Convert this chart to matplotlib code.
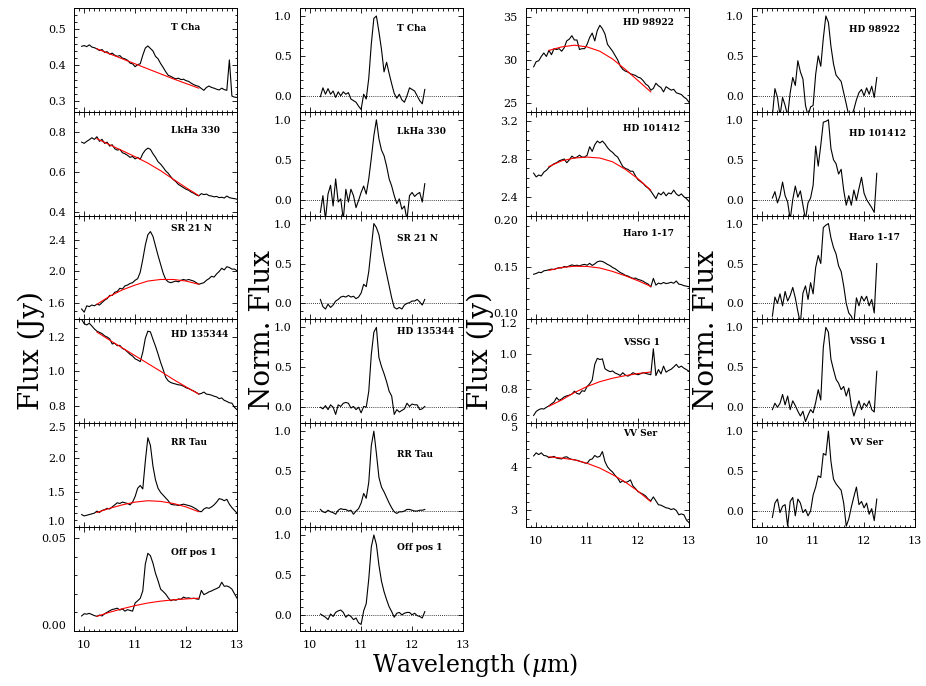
import matplotlib
matplotlib.use("Agg")
import matplotlib.pyplot as plt
from matplotlib.ticker import MultipleLocator, AutoMinorLocator, FormatStrFormatter

plt.rcParams['font.family'] = 'DejaVu Serif'
plt.rcParams['mathtext.fontset'] = 'dejavuserif'

# wavelength grids (micron)
wave = [9.95, 10.00, 10.05, 10.10, 10.15, 10.20, 10.25, 10.30, 10.35, 10.40,
        10.45, 10.50, 10.55, 10.60, 10.65, 10.70, 10.75, 10.80, 10.85, 10.90,
        10.95, 11.00, 11.05, 11.10, 11.15, 11.20, 11.25, 11.30, 11.35, 11.40,
        11.45, 11.50, 11.55, 11.60, 11.65, 11.70, 11.75, 11.80, 11.85, 11.90,
        11.95, 12.00, 12.05, 12.10, 12.15, 12.20, 12.25, 12.30, 12.35, 12.40,
        12.45, 12.50, 12.55, 12.60, 12.65, 12.70, 12.75, 12.80, 12.85, 12.90,
        12.95, 13.00]
wave_norm = [10.20, 10.25, 10.30, 10.35, 10.40, 10.45, 10.50, 10.55, 10.60, 10.65,
             10.70, 10.75, 10.80, 10.85, 10.90, 10.95, 11.00, 11.05, 11.10, 11.15,
             11.20, 11.25, 11.30, 11.35, 11.40, 11.45, 11.50, 11.55, 11.60, 11.65,
             11.70, 11.75, 11.80, 11.85, 11.90, 11.95, 12.00, 12.05, 12.10, 12.15,
             12.20, 12.25]
wave_cont = [10.25, 10.50, 10.75, 11.00, 11.25, 11.50, 11.75, 12.00, 12.25]

names = ["T Cha", "LkHa 330", "SR 21 N", "HD 135344", "RR Tau", "Off pos 1",
         "HD 98922", "HD 101412", "Haro 1-17", "VSSG 1", "VV Ser"]

# ---- flux spectra (Jy)
flux_tcha = [0.453, 0.455, 0.452, 0.457, 0.451, 0.449, 0.446, 0.441, 0.444, 0.436,
             0.438, 0.431, 0.434, 0.428, 0.425, 0.427, 0.420, 0.418, 0.414, 0.406,
             0.404, 0.396, 0.402, 0.404, 0.428, 0.448, 0.454, 0.447, 0.440, 0.425,
             0.418, 0.405, 0.394, 0.382, 0.372, 0.369, 0.365, 0.362, 0.364, 0.360,
             0.361, 0.357, 0.355, 0.350, 0.346, 0.343, 0.341, 0.335, 0.330, 0.338,
             0.342, 0.338, 0.336, 0.333, 0.331, 0.336, 0.332, 0.330, 0.415, 0.314,
             0.311, 0.310]
flux_lkha = [0.748, 0.742, 0.752, 0.760, 0.770, 0.762, 0.775, 0.752, 0.762, 0.742,
             0.748, 0.728, 0.735, 0.715, 0.708, 0.712, 0.695, 0.690, 0.682, 0.672,
             0.676, 0.664, 0.672, 0.662, 0.690, 0.708, 0.718, 0.712, 0.690, 0.672,
             0.650, 0.638, 0.622, 0.604, 0.592, 0.575, 0.560, 0.550, 0.536, 0.528,
             0.520, 0.512, 0.507, 0.498, 0.492, 0.484, 0.479, 0.490, 0.485, 0.488,
             0.480, 0.478, 0.474, 0.476, 0.470, 0.472, 0.468, 0.478, 0.470, 0.467,
             0.465, 0.462]
flux_sr21 = [1.53, 1.49, 1.57, 1.56, 1.58, 1.57, 1.59, 1.58, 1.61, 1.64,
             1.66, 1.70, 1.70, 1.74, 1.75, 1.79, 1.78, 1.82, 1.83, 1.85,
             1.86, 1.89, 1.91, 1.99, 2.15, 2.33, 2.46, 2.50, 2.44, 2.32,
             2.20, 2.09, 1.98, 1.90, 1.87, 1.86, 1.87, 1.88, 1.87, 1.89,
             1.90, 1.89, 1.90, 1.89, 1.88, 1.86, 1.84, 1.85, 1.86, 1.89,
             1.91, 1.94, 1.93, 1.97, 2.00, 2.04, 2.02, 2.06, 2.05, 2.03,
             2.03, 2.01]
flux_hd135344 = [1.300, 1.275, 1.268, 1.278, 1.262, 1.245, 1.232, 1.225, 1.218, 1.205,
                 1.198, 1.188, 1.158, 1.162, 1.148, 1.150, 1.132, 1.125, 1.112, 1.098,
                 1.088, 1.072, 1.065, 1.056, 1.110, 1.190, 1.232, 1.228, 1.185, 1.145,
                 1.100, 1.052, 1.010, 0.965, 0.945, 0.935, 0.930, 0.926, 0.922, 0.920,
                 0.914, 0.905, 0.900, 0.893, 0.886, 0.878, 0.868, 0.872, 0.880, 0.868,
                 0.866, 0.862, 0.856, 0.852, 0.842, 0.846, 0.832, 0.826, 0.818, 0.816,
                 0.792, 0.778]
flux_rrtau = [1.18, 1.16, 1.17, 1.18, 1.19, 1.20, 1.23, 1.21, 1.24, 1.25,
              1.27, 1.26, 1.29, 1.32, 1.35, 1.34, 1.36, 1.35, 1.34, 1.32,
              1.36, 1.44, 1.56, 1.60, 1.55, 1.95, 2.29, 2.18, 1.88, 1.68,
              1.56, 1.50, 1.46, 1.42, 1.38, 1.33, 1.32, 1.32, 1.31, 1.32,
              1.33, 1.32, 1.31, 1.30, 1.28, 1.26, 1.23, 1.22, 1.26, 1.28,
              1.27, 1.29, 1.32, 1.36, 1.41, 1.40, 1.38, 1.40, 1.33, 1.28,
              1.24, 1.20]
flux_offpos = [0.0080, 0.0092, 0.0090, 0.0094, 0.0088, 0.0082, 0.0078, 0.0085, 0.0080, 0.0092,
               0.0100, 0.0108, 0.0115, 0.0118, 0.0122, 0.0112, 0.0118, 0.0106, 0.0114, 0.0110,
               0.0106, 0.0150, 0.0162, 0.0175, 0.0215, 0.0360, 0.0418, 0.0405, 0.0365, 0.0310,
               0.0270, 0.0225, 0.0212, 0.0198, 0.0178, 0.0162, 0.0168, 0.0165, 0.0172, 0.0170,
               0.0182, 0.0176, 0.0178, 0.0174, 0.0176, 0.0172, 0.0170, 0.0218, 0.0195, 0.0202,
               0.0210, 0.0215, 0.0222, 0.0228, 0.0235, 0.0262, 0.0240, 0.0242, 0.0236, 0.0225,
               0.0200, 0.0176]
flux_hd98922 = [29.2, 29.8, 29.9, 30.4, 30.8, 30.4, 31.1, 30.6, 31.3, 31.2,
                31.3, 31.0, 31.4, 32.2, 32.4, 32.8, 32.3, 32.3, 31.2, 31.3,
                31.3, 31.8, 32.6, 33.1, 32.2, 33.4, 34.0, 33.6, 33.0, 31.8,
                31.4, 31.0, 30.5, 30.0, 29.3, 28.9, 28.7, 28.6, 28.4, 28.3,
                28.2, 28.0, 27.9, 27.6, 27.2, 27.0, 26.5, 26.7, 27.3, 27.0,
                26.8, 26.3, 26.9, 26.7, 26.5, 26.6, 26.2, 26.1, 26.0, 25.7,
                25.5, 25.1]
flux_hd101412 = [2.65, 2.61, 2.63, 2.62, 2.66, 2.68, 2.71, 2.73, 2.75, 2.76,
                 2.78, 2.79, 2.80, 2.76, 2.79, 2.83, 2.81, 2.82, 2.84, 2.82,
                 2.82, 2.84, 2.93, 2.88, 2.95, 2.99, 2.97, 2.99, 2.96, 2.92,
                 2.89, 2.87, 2.84, 2.82, 2.77, 2.72, 2.70, 2.69, 2.67, 2.67,
                 2.62, 2.58, 2.56, 2.54, 2.51, 2.49, 2.46, 2.42, 2.38, 2.44,
                 2.42, 2.45, 2.41, 2.44, 2.43, 2.47, 2.43, 2.41, 2.43, 2.40,
                 2.38, 2.35]
flux_haro = [0.1435, 0.1442, 0.1455, 0.1450, 0.1468, 0.1472, 0.1478, 0.1485, 0.1480, 0.1492,
             0.1498, 0.1495, 0.1510, 0.1505, 0.1515, 0.1525, 0.1518, 0.1522, 0.1515, 0.1525,
             0.1530, 0.1522, 0.1540, 0.1520, 0.1535, 0.1555, 0.1562, 0.1558, 0.1545, 0.1530,
             0.1518, 0.1500, 0.1488, 0.1470, 0.1452, 0.1440, 0.1425, 0.1418, 0.1405, 0.1395,
             0.1398, 0.1385, 0.1378, 0.1368, 0.1352, 0.1340, 0.1312, 0.1395, 0.1330, 0.1350,
             0.1342, 0.1356, 0.1345, 0.1350, 0.1358, 0.1348, 0.1370, 0.1340, 0.1335, 0.1325,
             0.1320, 0.1315]
flux_vssg = [0.645, 0.668, 0.678, 0.684, 0.682, 0.692, 0.700, 0.712, 0.722, 0.748,
             0.732, 0.740, 0.752, 0.758, 0.762, 0.768, 0.785, 0.772, 0.768, 0.788,
             0.784, 0.812, 0.828, 0.850, 0.940, 0.975, 0.968, 0.972, 0.915, 0.905,
             0.898, 0.902, 0.890, 0.884, 0.876, 0.892, 0.878, 0.872, 0.880, 0.892,
             0.885, 0.880, 0.886, 0.892, 0.888, 0.884, 0.880, 1.030, 0.875, 0.910,
             0.885, 0.930, 0.895, 0.905, 0.912, 0.925, 0.940, 0.922, 0.930, 0.918,
             0.910, 0.900]
flux_vvser = [4.25, 4.32, 4.28, 4.32, 4.26, 4.25, 4.21, 4.22, 4.24, 4.20,
              4.19, 4.18, 4.22, 4.23, 4.19, 4.17, 4.16, 4.15, 4.13, 4.11,
              4.09, 4.08, 4.16, 4.18, 4.26, 4.22, 4.24, 4.35, 4.12, 4.00,
              3.93, 3.88, 3.80, 3.74, 3.64, 3.68, 3.64, 3.66, 3.70, 3.56,
              3.50, 3.43, 3.40, 3.37, 3.33, 3.26, 3.22, 3.31, 3.22, 3.13,
              3.12, 3.09, 3.06, 3.05, 3.02, 3.04, 3.00, 2.90, 2.92, 2.90,
              2.78, 2.72]

# ---- fitted continua (red)
cont_tcha = [0.446, 0.432, 0.418, 0.404, 0.390, 0.376, 0.362, 0.349, 0.336]
cont_lkha = [0.765, 0.735, 0.705, 0.675, 0.643, 0.605, 0.562, 0.520, 0.480]
cont_sr21 = [1.59, 1.69, 1.77, 1.83, 1.88, 1.90, 1.90, 1.88, 1.84]
cont_hd135344 = [1.227, 1.180, 1.135, 1.090, 1.045, 1.000, 0.953, 0.910, 0.868]
cont_rrtau = [1.21, 1.27, 1.32, 1.36, 1.38, 1.37, 1.34, 1.29, 1.22]
cont_offpos = [0.0078, 0.0100, 0.0119, 0.0136, 0.0150, 0.0160, 0.0167, 0.0172, 0.0176]
cont_hd98922 = [31.1, 31.5, 31.7, 31.5, 31.0, 30.1, 28.9, 27.6, 26.3]
cont_hd101412 = [2.72, 2.78, 2.81, 2.82, 2.81, 2.77, 2.69, 2.59, 2.47]
cont_haro = [0.1472, 0.1500, 0.1512, 0.1510, 0.1495, 0.1462, 0.1420, 0.1372, 0.1318]
cont_vssg = [0.698, 0.734, 0.777, 0.812, 0.840, 0.860, 0.875, 0.887, 0.896]
cont_vvser = [4.23, 4.20, 4.16, 4.08, 3.97, 3.82, 3.65, 3.44, 3.20]

# ---- continuum-subtracted, normalised
norm_tcha = [-0.01, 0.10, 0.02, 0.09, 0.02, 0.06, -0.02, 0.05, 0.00, 0.05,
             0.02, 0.04, -0.04, -0.06, -0.08, -0.13, -0.17, 0.02, -0.04, 0.22,
             0.65, 0.97, 1.00, 0.80, 0.58, 0.30, 0.42, 0.28, 0.15, 0.03,
             -0.03, 0.02, -0.05, -0.08, 0.00, 0.10, 0.08, 0.06, 0.00, -0.06,
             -0.10, 0.08]
norm_lkha = [-0.16, 0.05, -0.25, 0.07, 0.18, -0.08, 0.26, -0.03, 0.01, -0.25,
             0.13, -0.03, 0.13, 0.05, -0.10, -0.01, 0.09, 0.17, 0.07, 0.26,
             0.52, 0.80, 1.00, 0.76, 0.62, 0.55, 0.42, 0.26, 0.17, 0.05,
             -0.05, 0.01, -0.12, -0.08, -0.25, 0.05, 0.09, 0.04, 0.07, 0.09,
             -0.03, 0.20]
norm_sr21 = [0.05, -0.04, -0.07, -0.01, -0.05, -0.02, 0.03, 0.05, 0.08, 0.09,
             0.08, 0.10, 0.08, 0.09, 0.06, 0.08, 0.13, 0.24, 0.21, 0.40,
             0.70, 1.00, 0.95, 0.86, 0.68, 0.52, 0.37, 0.22, 0.07, -0.05,
             -0.07, -0.05, -0.07, -0.02, 0.00, 0.01, 0.03, 0.03, 0.05, 0.02,
             -0.02, 0.05]
norm_hd135344 = [0.00, -0.02, 0.02, -0.03, 0.03, 0.00, -0.09, 0.03, 0.01, 0.05,
                 0.06, 0.05, -0.01, 0.01, -0.03, 0.00, -0.07, 0.01, 0.00, 0.20,
                 0.66, 0.94, 1.00, 0.62, 0.51, 0.42, 0.32, 0.20, 0.14, -0.09,
                 -0.03, -0.06, -0.04, -0.02, 0.05, 0.01, 0.04, 0.03, 0.03, -0.03,
                 -0.02, 0.01]
norm_rrtau = [0.02, -0.01, -0.02, 0.01, -0.01, -0.02, -0.04, 0.01, 0.03, 0.02,
              0.02, 0.00, 0.01, -0.04, 0.00, 0.03, 0.10, 0.22, 0.16, 0.36,
              0.82, 1.00, 0.72, 0.42, 0.30, 0.24, 0.17, 0.10, 0.04, -0.01,
              -0.03, -0.01, -0.01, 0.00, 0.02, 0.02, 0.01, 0.00, 0.00, 0.01,
              0.01, 0.02]
norm_offpos = [0.01, -0.01, -0.03, -0.06, 0.01, -0.02, 0.03, 0.05, 0.06, 0.03,
               -0.03, 0.00, -0.02, -0.06, -0.04, -0.10, -0.12, 0.05, 0.14, 0.45,
               0.85, 1.00, 0.88, 0.62, 0.42, 0.29, 0.19, 0.10, 0.04, -0.03,
               0.02, 0.03, 0.00, 0.02, 0.03, 0.03, 0.00, 0.02, -0.01, -0.02,
               -0.04, 0.04]
norm_hd98922 = [-0.25, 0.09, -0.02, -0.25, -0.02, -0.12, -0.25, 0.04, 0.23, 0.13,
                0.44, 0.30, 0.21, -0.12, -0.25, -0.14, -0.12, 0.27, 0.50, 0.37,
                0.72, 1.00, 0.92, 0.62, 0.40, 0.26, 0.22, 0.18, 0.04, -0.10,
                -0.25, -0.25, -0.17, -0.05, 0.04, 0.08, 0.00, 0.10, 0.02, 0.12,
                -0.02, 0.23]
norm_hd101412 = [0.02, 0.10, -0.04, 0.05, 0.22, 0.05, -0.03, -0.25, 0.00, 0.17,
                 0.03, 0.11, -0.07, -0.25, -0.04, 0.02, 0.18, 0.67, 0.42, 0.68,
                 0.97, 0.98, 1.00, 0.64, 0.50, 0.45, 0.32, 0.38, 0.12, -0.07,
                 0.05, -0.07, 0.12, -0.01, 0.14, 0.28, 0.08, 0.00, -0.05, -0.10,
                 -0.16, 0.33]
norm_haro = [-0.16, 0.08, 0.00, 0.12, -0.03, 0.15, 0.03, 0.10, 0.20, 0.07,
             -0.10, -0.25, 0.13, 0.22, 0.05, 0.26, 0.12, 0.45, 0.60, 0.50,
             0.95, 0.98, 1.00, 0.82, 0.70, 0.62, 0.47, 0.40, 0.22, 0.00,
             -0.12, -0.16, -0.25, 0.07, -0.03, 0.09, 0.03, 0.09, -0.03, 0.05,
             -0.12, 0.50]
norm_vssg = [-0.03, 0.05, 0.00, 0.05, 0.16, 0.03, 0.14, -0.03, 0.08, 0.02,
             -0.05, -0.11, -0.05, -0.18, -0.10, -0.03, -0.07, 0.06, 0.22, 0.09,
             0.75, 1.00, 0.94, 0.60, 0.47, 0.35, 0.30, 0.22, 0.26, 0.14,
             0.24, 0.02, -0.11, -0.01, 0.08, -0.03, 0.05, 0.01, 0.08, -0.03,
             -0.06, 0.45]
norm_vvser = [-0.08, 0.10, 0.15, -0.02, 0.06, 0.08, -0.19, 0.12, 0.17, -0.06,
              0.15, 0.10, -0.02, 0.02, -0.06, 0.00, 0.20, 0.30, 0.44, 0.42,
              0.72, 0.70, 1.00, 0.62, 0.40, 0.34, 0.30, 0.26, 0.10, -0.19,
              -0.10, 0.05, 0.18, 0.30, 0.08, 0.12, 0.04, 0.10, -0.04, 0.03,
              -0.12, 0.15]

flux = [flux_tcha, flux_lkha, flux_sr21, flux_hd135344, flux_rrtau, flux_offpos,
        flux_hd98922, flux_hd101412, flux_haro, flux_vssg, flux_vvser]
cont = [cont_tcha, cont_lkha, cont_sr21, cont_hd135344, cont_rrtau, cont_offpos,
        cont_hd98922, cont_hd101412, cont_haro, cont_vssg, cont_vvser]
norm = [norm_tcha, norm_lkha, norm_sr21, norm_hd135344, norm_rrtau, norm_offpos,
        norm_hd98922, norm_hd101412, norm_haro, norm_vssg, norm_vvser]

ylims = [(0.27, 0.56), (0.38, 0.90), (1.4, 2.7), (0.7, 1.3), (1.0, 2.5), (0.0, 0.056),
         (24, 36), (2.2, 3.3), (0.10, 0.20), (0.6, 1.2), (2.62, 5.0)]
ysteps = [0.1, 0.2, 0.4, 0.2, 0.5, 0.05, 5, 0.4, 0.05, 0.2, 1]
yfmts = ['%.1f', '%.1f', '%.1f', '%.1f', '%.1f', '%.2f',
         '%d', '%.1f', '%.2f', '%.1f', '%d']
lab_y_flux = [0.81, 0.82, 0.88, 0.85, 0.81, 0.75, 0.86, 0.84, 0.83, 0.78, 0.90]
lab_y_norm = [0.80, 0.81, 0.78, 0.887, 0.695, 0.80, 0.79, 0.79, 0.79, 0.79, 0.81]

# ---- layout (pixels of a 926x686 image)
W, H = 926.0, 686.0
ROW = 103.8
TOP = 8.0
col_left = [74, 300, 526, 752]
AX_W = 163

fig = plt.figure(figsize=(9.26, 6.86), dpi=100)


def panel(left, row):
    return fig.add_axes([left / W, 1 - (TOP + ROW * (row + 1)) / H, AX_W / W, ROW / H])


def style(ax, ylim, ystep, fmt, show_x):
    ax.set_xlim(9.8, 13.0)
    ax.set_ylim(*ylim)
    ax.xaxis.set_major_locator(MultipleLocator(1))
    ax.xaxis.set_minor_locator(MultipleLocator(0.1))
    ax.yaxis.set_major_locator(MultipleLocator(ystep))
    ax.yaxis.set_minor_locator(AutoMinorLocator())
    ax.yaxis.set_major_formatter(FormatStrFormatter(fmt))
    ax.tick_params(which='both', direction='in', top=True, right=True,
                   labelsize=8, width=0.6)
    ax.tick_params(which='major', length=3.5)
    ax.tick_params(which='minor', length=1.8)
    ax.tick_params(axis='x', pad=6.5)
    ax.tick_params(axis='y', pad=6)
    if not show_x:
        ax.tick_params(labelbottom=False)
    for s in ax.spines.values():
        s.set_linewidth(0.7)
    # labels sitting on the panel edges are kept inside the panel
    lo, hi = ax.get_ylim()
    locs = ax.yaxis.get_majorticklocs()
    ticks = ax.yaxis.get_major_ticks(len(locs))
    tol = (hi - lo) * 1e-3
    for loc, t in zip(locs, ticks):
        if abs(loc - hi) < tol:
            t.label1.set_va('top')
        elif abs(loc - lo) < tol:
            t.label1.set_va('bottom')


for i, name in enumerate(names):
    if i < 6:
        row, cf, cn, last = i, 0, 1, 5
    else:
        row, cf, cn, last = i - 6, 2, 3, 4

    ax = panel(col_left[cf], row)
    ax.plot(wave, flux[i], color='black', lw=0.8)
    ax.plot(wave_cont, cont[i], color='red', lw=0.8)
    style(ax, ylims[i], ysteps[i], yfmts[i], row == last)
    ax.text(0.595, lab_y_flux[i], name, transform=ax.transAxes,
            fontsize=6.5, fontweight='bold', va='center')

    axn = panel(col_left[cn], row)
    axn.axhline(0, color='black', lw=0.6, ls=(0, (1, 1.5)))
    axn.plot(wave_norm, norm[i], color='black', lw=0.8)
    style(axn, (-0.2, 1.1), 0.5, '%.1f', row == last)
    axn.text(0.595, lab_y_norm[i], name, transform=axn.transAxes,
             fontsize=6.5, fontweight='bold', va='center')

# axis titles
ybot = 1 - 410 / H
fig.text(31 / W, ybot, 'Flux (Jy)', rotation=90, ha='center', va='bottom', fontsize=20)
fig.text(480 / W, ybot, 'Flux (Jy)', rotation=90, ha='center', va='bottom', fontsize=20)
fig.text(262 / W, ybot, 'Norm. Flux', rotation=90, ha='center', va='bottom', fontsize=20)
fig.text(706 / W, ybot, 'Norm. Flux', rotation=90, ha='center', va='bottom', fontsize=20)
fig.text(372 / W, 1 - 672 / H, r'Wavelength ($\mu$m)', ha='left', va='baseline', fontsize=17)

fig.savefig('out.png', dpi=100)
